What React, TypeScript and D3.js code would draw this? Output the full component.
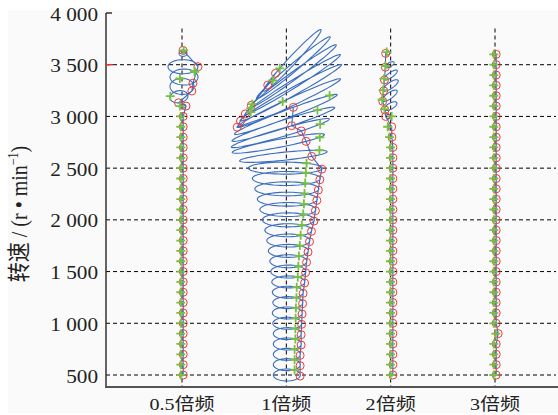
import * as d3 from "d3";
import React, { useEffect, useRef } from "react";

// rotating speed of each orbit, r/min
const speeds = [500, 600, 700, 800, 900, 1000, 1100, 1200, 1300, 1400, 1500, 1600, 1700, 1800, 1900, 2000,
  2100, 2200, 2300, 2400, 2500, 2600, 2700, 2800, 2900, 3000, 3100, 3200, 3300, 3400, 3500, 3600];

const harmonics = ["0.5倍频", "1倍频", "2倍频", "3倍频"];
const yTicks = [500, 1000, 1500, 2000, 2500, 3000, 3500, 4000];
const yTickLabels = ["500", "1 000", "1 500", "2 000", "2 500", "3 000", "3 500", "4 000"];
const gridTicks = [500, 1000, 1500, 2000, 2500, 3000, 3500];

// orbit shape per speed: semi axes (um), tilt (deg), centre shift (um),
// phase of key mark (red circle) and of second mark (green plus), deg

// 0.5x
const semiA05 = [1.2, 1.2, 1.2, 1.2, 1.2, 1.2, 1.2, 1.2, 1.2, 1.2, 1.2, 1.2, 1.2, 1.2, 1.2, 1.2,
  1.2, 1.2, 1.2, 1.2, 1.2, 1.2, 1.2, 1.2, 1.2, 1.2, 3, 9, 12, 14, 15, 4];
const semiB05 = [1, 1, 1, 1, 1, 1, 1, 1, 1, 1, 1, 1, 1, 1, 1, 1,
  1, 1, 1, 1, 1, 1, 1, 1, 1, 1, 2, 6, 8, 8, 7, 3];
const tilt05 = [0, 0, 0, 0, 0, 0, 0, 0, 0, 0, 0, 0, 0, 0, 0, 0,
  0, 0, 0, 0, 0, 0, 0, 0, 0, 0, 0, 10, 0, 0, 0, 0];
const shiftX05 = [0, 0, 0, 0, 0, 0, 0, 0, 0, 0, 0, 0, 0, 0, 0, 0,
  0, 0, 0, 0, 0, 0, 0, 0, 0, 0, 1, -3, 0, 2, 1, 1];
const shiftY05 = [0, 0, 0, 0, 0, 0, 0, 0, 0, 0, 0, 0, 0, 0, 0, 0,
  0, 0, 0, 0, 0, 0, 0, 0, 0, 0, 0, -1, -1, -2, -2, 1];
const key05 = [0, 0, 0, 0, 0, 0, 0, 0, 0, 0, 0, 0, 0, 0, 0, 0,
  0, 0, 0, 0, 0, 0, 0, 0, 0, 0, 0, -100, -35, -50, 0, 90];
const plus05 = [180, 180, 180, 180, 180, 180, 180, 180, 180, 180, 180, 180, 180, 180, 180, 180,
  180, 180, 180, 180, 180, 180, 180, 180, 180, 180, 180, 160, 100, 40, -40, 80];

// 1x
const semiA1 = [13.5, 13.5, 13.5, 14, 14, 14.5, 15, 15, 15.5, 16.5, 17.5, 18.5, 20, 21.5, 23.5, 26,
  28, 30, 32, 34, 37, 44, 47, 51, 54, 55, 57, 58, 56, 53, 48, 42];
const semiB1 = [6, 6, 6, 6, 6, 6, 6, 6, 6, 6, 6.5, 6.5, 6.5, 6.5, 6.5, 7,
  7, 7, 7, 7, 6, 4, 4, 4, 4, 4, 4, 4, 4, 4, 4, 4];
const tilt1 = [0, 0, 0, 0, 0, 0, 0, 0, 0, 0, 0, 0, 0, 0, 0, 0,
  0, 0, 0, 0, 0, 6, 11, 16, 18, 21, 25, 29, 32, 36, 40, 47];
const shiftX1 = [0.5, 0.5, 0.5, 1, 1, 1, 1, 1.5, 1.5, 2, 2, 2, 2, 2, 2, 2,
  1.5, 1, 0.5, 0, -1, -3, -8, -6, -3, -0.5, 2.5, 4.5, 6.5, 7, 7, 6];
const shiftY1 = [0, 0, 0, 0, 0, 0, 0, 0, 0, 0, 0, 0, 0, 0, 0, 0,
  0, 0, 0, 0, 0, 1.5, 4, 4, 2.5, 2, 3, 3, 1, -1, -3, -6];
const key1 = [-10, -10, -10, -10, -10, -10, -10, -10, -10, -10, -10, -10, -10, -10, -10, -10,
  -10, -10, -10, -10, -10, -50, -54, -66, -82, 80, 180, 185, 178, 165, 130, 120];
const plus1 = [55, 55, 55, 55, 55, 55, 55, 55, 55, 55, 55, 55, 55, 55, 55, 55,
  55, 55, 55, 55, 55, 34, -27, -37, 47, 30, 95, 140, 150, 160, 120, 110];

// 2x
const semiA2 = [1.2, 1.2, 1.2, 1.2, 1.2, 1.2, 1.2, 1.2, 1.2, 1.2, 1.2, 1.2, 1.2, 1.2, 1.2, 1.2,
  1.2, 1.2, 1.2, 1.2, 1.2, 1.2, 1.2, 1.2, 2, 3, 7, 9, 9, 8, 5, 2];
const semiB2 = [1, 1, 1, 1, 1, 1, 1, 1, 1, 1, 1, 1, 1, 1, 1, 1,
  1, 1, 1, 1, 1, 1, 1, 1, 1.5, 2, 3, 3, 3, 2.5, 2, 1.5];
const tilt2 = [0, 0, 0, 0, 0, 0, 0, 0, 0, 0, 0, 0, 0, 0, 0, 0,
  0, 0, 0, 0, 0, 0, 0, 0, 0, 0, 30, 35, 35, 35, 30, 0];
const shiftX2 = [1, 1, 1, 1, 1, 1, 1, 1, 1, 1, 1, 1, 1, 1, 1, 1,
  1, 1, 1, 1, 1, 1, 1, 0, -1, -2, 0, -1, 0, 0, -1, -3];
const shiftY2 = [0, 0, 0, 0, 0, 0, 0, 0, 0, 0, 0, 0, 0, 0, 0, 0,
  0, 0, 0, 0, 0, 0, 0, 0, 0, 0, 0, 0, 0, 0, 0, 1];
const key2 = [0, 0, 0, 0, 0, 0, 0, 0, 0, 0, 0, 0, 0, 0, 0, 0,
  0, 0, 0, 0, 0, 0, 0, 0, 0, 180, 190, 190, 190, 190, 180, 180];
const plus2 = [180, 180, 180, 180, 180, 180, 180, 180, 180, 180, 180, 180, 180, 180, 180, 180,
  180, 180, 180, 180, 180, 180, 180, 180, 180, 0, 170, 160, 170, 160, 150, 120];

// 3x
const semiA3 = [1.2, 1.2, 1.2, 1.2, 1.2, 1.2, 1.2, 1.2, 1.2, 1.2, 1.2, 1.2, 1.2, 1.2, 1.2, 1.2,
  1.2, 1.2, 1.2, 1.2, 1.2, 1.2, 1.2, 1.2, 1.2, 1.2, 1.2, 1.2, 1.2, 1.2, 1.2, 1.2];
const semiB3 = [1, 1, 1, 1, 1, 1, 1, 1, 1, 1, 1, 1, 1, 1, 1, 1,
  1, 1, 1, 1, 1, 1, 1, 1, 1, 1, 1, 1, 1, 1, 1, 1];
const shiftX3 = [0, 0, 0, 0, 2, 0, 0, 0, 0, 0, 0, 0, 0, 0, 0, 0,
  0, 0, 0, 0, 0, 0, 0, 0, 0, 0, 0, 0, 0, 0, 0, 0];
const key3 = [0, 0, 0, 0, 0, 0, 0, 0, 0, 0, 0, 0, 0, 0, 0, 0,
  0, 0, 0, 0, 0, 0, 0, 0, 0, 0, 0, 0, 0, 0, 0, 0];
const plus3 = [180, 180, 180, 180, 180, 180, 180, 180, 180, 180, 180, 180, 180, 180, 180, 180,
  180, 180, 180, 180, 180, 180, 180, 180, 180, 180, 180, 180, 180, 180, 180, 180];
const zeros = [0, 0, 0, 0, 0, 0, 0, 0, 0, 0, 0, 0, 0, 0, 0, 0,
  0, 0, 0, 0, 0, 0, 0, 0, 0, 0, 0, 0, 0, 0, 0, 0];

const orbitSets = [
  { a: semiA05, b: semiB05, tilt: tilt05, dx: shiftX05, dy: shiftY05, key: key05, plus: plus05 },
  { a: semiA1, b: semiB1, tilt: tilt1, dx: shiftX1, dy: shiftY1, key: key1, plus: plus1 },
  { a: semiA2, b: semiB2, tilt: tilt2, dx: shiftX2, dy: shiftY2, key: key2, plus: plus2 },
  { a: semiA3, b: semiB3, tilt: zeros, dx: shiftX3, dy: zeros, key: key3, plus: plus3 },
];

const FONT = "'Liberation Serif', 'Times New Roman', 'Noto Sans CJK SC', serif";

export default function App() {
  const svgRef = useRef(null);
  const width = 558;
  const height = 415;
  const margin = { top: 13, right: 2, bottom: 28, left: 106 };

  useEffect(() => {
    const svg = d3.select(svgRef.current);
    svg.selectAll("*").remove();

    const bottom = height - margin.bottom;
    const right = width - margin.right;

    // scales
    const xScale = d3.scalePoint().domain(harmonics).range([182, 495]);
    const yScale = d3.scaleLinear().domain([384, 4000]).range([bottom, margin.top]);
    const gain = 1; // px per um of orbit

    svg.append("rect").attr("x", 8).attr("y", 10).attr("width", width - 8).attr("height", height - 12)
      .attr("fill", "#fafafa");

    // grid
    svg.append("g").selectAll("line").data(gridTicks).join("line")
      .attr("x1", margin.left).attr("x2", right)
      .attr("y1", (d) => yScale(d)).attr("y2", (d) => yScale(d))
      .attr("stroke", "#000").attr("stroke-width", 1).attr("stroke-dasharray", "4,3");
    svg.append("g").selectAll("line").data(harmonics).join("line")
      .attr("x1", (d) => xScale(d)).attr("x2", (d) => xScale(d))
      .attr("y1", yScale(3850)).attr("y2", bottom)
      .attr("stroke", "#000").attr("stroke-width", 1).attr("stroke-dasharray", "4,3");

    const orbitPoint = (o, j, t) => {
      const th = (o.tilt[j] * Math.PI) / 180;
      const tt = (t * Math.PI) / 180;
      const ex = o.a[j] * Math.cos(tt);
      const ey = o.b[j] * Math.sin(tt);
      return [o.dx[j] + ex * Math.cos(th) - ey * Math.sin(th), o.dy[j] + ex * Math.sin(th) + ey * Math.cos(th)];
    };

    const lineGenerator = d3.line().curve(d3.curveLinear);

    harmonics.forEach((h, i) => {
      const o = orbitSets[i];
      const cx = xScale(h);
      const pts = [];
      speeds.forEach((s, j) => {
        for (let k = 0; k <= 60; k++) {
          const [px, py] = orbitPoint(o, j, o.key[j] + k * 6);
          pts.push([cx + px * gain, yScale(s) - py * gain]);
        }
      });
      svg.append("path").attr("d", lineGenerator(pts))
        .attr("fill", "none").attr("stroke", "#3a6cbf").attr("stroke-width", 1.1);
    });

    harmonics.forEach((h, i) => {
      const o = orbitSets[i];
      const cx = xScale(h);
      const g = svg.append("g");
      speeds.forEach((s, j) => {
        const [px, py] = orbitPoint(o, j, o.key[j]);
        g.append("circle").attr("cx", cx + px * gain).attr("cy", yScale(s) - py * gain).attr("r", 4)
          .attr("fill", "none").attr("stroke", "#ee3b36").attr("stroke-width", 1);
      });
      speeds.forEach((s, j) => {
        const [px, py] = orbitPoint(o, j, o.plus[j]);
        const x = cx + px * gain;
        const y = yScale(s) - py * gain;
        g.append("path").attr("d", `M${x - 4.5},${y}H${x + 4.5}M${x},${y - 4.5}V${y + 4.5}`)
          .attr("stroke", "#78c043").attr("stroke-width", 1.8);
      });
    });

    // axes
    svg.append("line").attr("x1", margin.left).attr("x2", margin.left)
      .attr("y1", yScale(4000)).attr("y2", bottom + 1)
      .attr("stroke", "#333").attr("stroke-width", 1.5);
    svg.append("line").attr("x1", margin.left).attr("x2", margin.left + 6)
      .attr("y1", yScale(4000)).attr("y2", yScale(4000))
      .attr("stroke", "#333").attr("stroke-width", 1.5);
    svg.append("line").attr("x1", margin.left).attr("x2", margin.left + 7)
      .attr("y1", yScale(3500)).attr("y2", yScale(3500))
      .attr("stroke", "#e8302a").attr("stroke-width", 1.5);
    svg.append("line").attr("x1", margin.left - 0.75).attr("x2", width)
      .attr("y1", bottom).attr("y2", bottom)
      .attr("stroke", "#555").attr("stroke-width", 2);

    // tick labels
    svg.append("g").selectAll("text").data(yTicks).join("text")
      .attr("transform", (d) => `translate(98,${yScale(d) + 7.5}) scale(1.18,1)`)
      .attr("text-anchor", "end").style("font-family", FONT).style("font-size", "18px")
      .attr("fill", "#222").text((d, i) => yTickLabels[i]);

    svg.append("g").selectAll("text").data(harmonics).join("text")
      .attr("transform", (d) => `translate(${xScale(d)},410) scale(1.18,1)`)
      .attr("text-anchor", "middle").style("font-family", FONT).style("font-size", "17px")
      .attr("fill", "#222").text((d) => d);

    const title = svg.append("text")
      .attr("transform", "translate(27,214) rotate(-90) scale(1,1.15)")
      .attr("text-anchor", "middle").style("font-family", FONT).style("font-size", "20px")
      .attr("fill", "#222");
    title.append("tspan").text("转速 / (r • min");
    title.append("tspan").attr("dy", -8).style("font-size", "12px").text("−1");
    title.append("tspan").attr("dy", 8).text(")");
  }, []);

  return (
    <svg ref={svgRef} width={width} height={height}
      style={{ position: "absolute", left: 0, top: 0, background: "#fff" }} />
  );
}
